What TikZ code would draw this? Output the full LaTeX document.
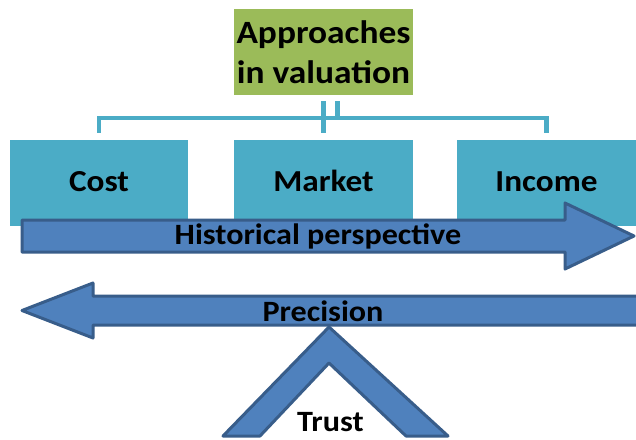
\documentclass[tikz,border=0pt]{standalone}
\usepackage{fontspec}
\setmainfont{Carlito}[FakeStretch=1.09]
\usetikzlibrary{calc}
\definecolor{boxteal}{HTML}{4BACC6}
\definecolor{boxgreen}{HTML}{9BBB59}
\definecolor{arrfill}{HTML}{4F81BD}
\definecolor{arrline}{HTML}{385D8A}
\tikzset{
  bigtext/.style={font=\bfseries\fontsize{30.5}{37}\selectfont},
  midtext/.style={font=\bfseries\fontsize{29.5}{35}\selectfont},
  greenbox/.style={fill=boxgreen, inner sep=0pt, minimum width=179pt, minimum height=86pt, align=center,
    font=\bfseries\fontsize{32.5}{39.5}\selectfont},
  tealbox/.style={fill=boxteal, inner sep=0pt, minimum width=179pt, minimum height=86pt,
    text height=16pt, text depth=0pt, bigtext},
  conn/.style={draw=boxteal, line width=4.5pt},
  bigarrow/.style={fill=arrfill, draw=arrline, line width=3pt, line join=round},
  arrlabel/.style={anchor=base, inner sep=0pt, midtext}
}
\begin{document}
\begin{tikzpicture}[x=1pt,y=-1pt]
\useasboundingbox (0,0) rectangle (636,439);
\clip (0,0) rectangle (636,439);
\fill[white] (0,0) rectangle (636,439);

% top box
\node[greenbox] (top) at (323.5,52) {Approaches\\in valuation};

% three approach boxes
\node[tealbox, minimum width=178pt] (cost) at (99,183) {Cost};
\node[tealbox] (market) at (323.5,183) {Market};
\node[tealbox] (income) at (546.5,183) {Income};

% connectors
\coordinate (bus) at (0,118);
\draw[conn] ([yshift=7pt]cost.north) -- (cost.north |- bus) -- (income.north |- bus) -- ([yshift=7pt]income.north);
\draw[conn] ([yshift=-6pt]top.south) -- ([yshift=7pt]market.north);
\draw[conn] ([xshift=14pt,yshift=-6pt]top.south) -- ([xshift=14pt]top.south |- bus);

% Historical perspective arrow
\draw[bigarrow] (22,220) -- (565,220) -- (565,203) -- (634,236) -- (565,269) -- (565,252) -- (22,252) -- cycle;
\node[arrlabel] (hist) at (318,244) {Historical perspective};

% Precision arrow
\draw[bigarrow] (22,310.5) -- (93,283) -- (93,296) -- (660,296) -- (660,325) -- (93,325) -- (93,338) -- cycle;

% Trust chevron
\draw[bigarrow] (329,327) -- (448,436) -- (406,436) -- (329,363) -- (260,436) -- (223,436) -- cycle;

\node[arrlabel] (prec) at (323,321.5) {Precision};
\node[arrlabel] (trust) at (330.5,431) {Trust};
\end{tikzpicture}
\end{document}
